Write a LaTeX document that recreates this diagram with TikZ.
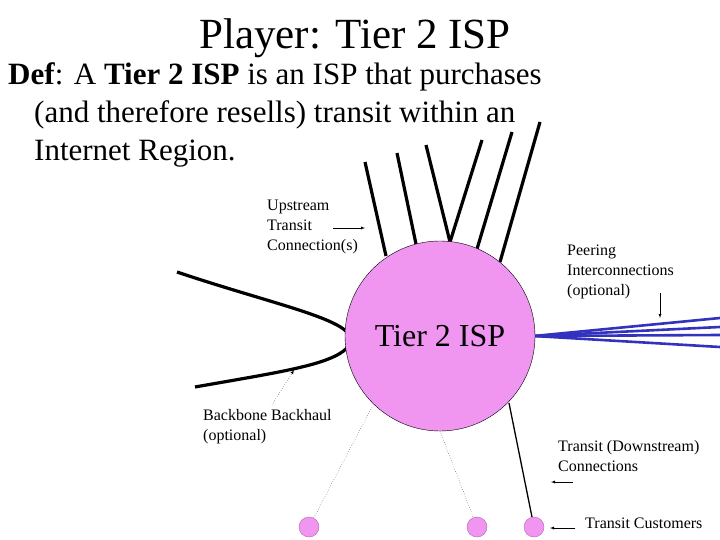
\documentclass[tikz,border=0pt]{standalone}
\usepackage{fontspec}
\setmainfont{Liberation Serif}
\begin{document}
\begin{tikzpicture}[x=1pt,y=-1pt,
  thick line/.style={line width=3.2pt,black},
  lab/.style={font=\fontsize{16}{20}\selectfont,align=left,inner sep=0pt,anchor=north west},
  cust/.style={circle,fill={rgb,255:red,240;green,150;blue,240},draw=violet!60,minimum size=20pt,inner sep=0pt},
  peer/.style={line width=2.6pt,color={rgb,255:red,50;green,50;blue,190}},
  small arrow/.style={-latex,thin}]
\useasboundingbox (0,0) rectangle (720,540);
\node[font=\fontsize{43}{45}\selectfont] (title) at (355,38) {Player: Tier 2 ISP};
\node[anchor=north west,align=left,inner sep=0pt,font=\fontsize{31}{38}\selectfont] (def) at (8,62) {\textbf{Def}: A \textbf{Tier 2 ISP} is an ISP that purchases\\
\hspace*{26pt}(and therefore resells) transit within an\\
\hspace*{26pt}Internet Region.};
% upstream lines
\coordinate (u1a) at (365,162); \coordinate (u1b) at (386,256);
\coordinate (u2a) at (397,153); \coordinate (u2b) at (416,244);
\coordinate (u3a) at (426,145); \coordinate (u3b) at (450,242);
\coordinate (u4a) at (482,140); \coordinate (u4b) at (450,242);
\coordinate (u5a) at (512,132); \coordinate (u5b) at (477,249);
\coordinate (u6a) at (540,122); \coordinate (u6b) at (500,262);
\foreach \i in {1,...,6}{\draw[thick line] (u\i a) -- (u\i b);}
% backbone
\coordinate (b1) at (177,272); \coordinate (b2) at (195,387);
\coordinate (bc1) at (347,332); \coordinate (bc2) at (347,348);
\draw[thick line] (b1) .. controls (260,300) and (330,315) .. (bc1);
\draw[thick line] (b2) .. controls (280,372) and (330,365) .. (bc2);
% peering
\coordinate (pe) at (534,336);
\coordinate (p1) at (720,318); \coordinate (p2) at (720,327);
\coordinate (p3) at (720,335); \coordinate (p4) at (720,347);
\foreach \i in {1,...,4}{\draw[peer] (pe) -- (p\i);}
% customers
\node[cust] (c1) at (309,527) {};
\node[cust] (c2) at (477,527) {};
\node[cust] (c3) at (534,527) {};
\coordinate (d1) at (372,407); \coordinate (d2) at (440,431); \coordinate (d3) at (509,403);
\draw[dotted,thin] (d1) -- (c1);
\draw[dotted,thin] (d2) -- (c2);
\draw[line width=1.3pt] (d3) -- (c3);
% main circle
\node[circle,fill={rgb,255:red,240;green,150;blue,240},draw=black,thin,minimum size=190pt,inner sep=0pt,font=\fontsize{32}{34}\selectfont] (isp) at (440,336) {Tier 2 ISP};
% labels
\node[lab] (up) at (267,200) {Upstream\\Transit\\Connection(s)};
\node[lab] (pl) at (567,245) {Peering\\Interconnections\\(optional)};
\node[lab] (bb) at (203,409) {Backbone Backhaul\\(optional)};
\node[lab] (ds) at (558,440) {Transit (Downstream)\\Connections};
\node[lab] (tc) at (585,518) {Transit Customers};
% arrows
\coordinate (a1s) at (333,228); \coordinate (a1e) at (365,228);
\draw[small arrow] (a1s) -- (a1e);
\coordinate (a2s) at (660,293); \coordinate (a2e) at (660,318);
\draw[small arrow] (a2s) -- (a2e);
\coordinate (a3s) at (272,405); \coordinate (a3e) at (294,370);
\draw[small arrow,dotted] (a3s) -- (a3e);
\coordinate (a4s) at (573,482); \coordinate (a4e) at (551,482);
\draw[small arrow] (a4s) -- (a4e);
\coordinate (a5s) at (575,528); \coordinate (a5e) at (550,528);
\draw[small arrow] (a5s) -- (a5e);
\end{tikzpicture}
\end{document}
